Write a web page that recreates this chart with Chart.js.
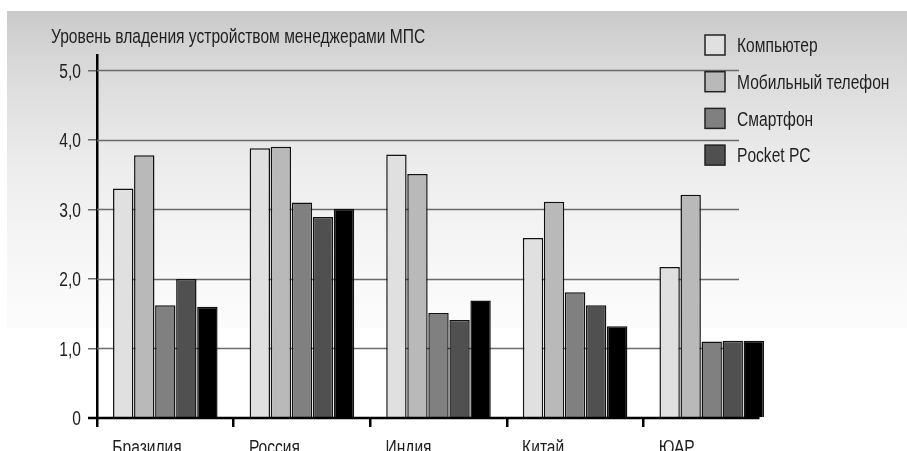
<!DOCTYPE html>
<html>
<head>
<meta charset="utf-8">
<script src="https://cdn.jsdelivr.net/npm/chart.js@4/dist/chart.umd.min.js"></script>
<style>
  html, body { margin: 0; padding: 0; background: #fff; }
  #wrap { width: 907px; height: 451px; position: relative; overflow: hidden; }
</style>
</head>
<body>
<div id="wrap"><canvas id="c" width="907" height="451"></canvas></div>
<script>
// Device ownership level among managers, by country
const categories = ['Бразилия', 'Россия', 'Индия', 'Китай', 'ЮАР'];
const computer   = [3.30, 3.88, 3.79, 2.59, 2.17];
const mobile     = [3.78, 3.90, 3.51, 3.11, 3.21];
const smartphone = [1.62, 3.10, 1.51, 1.81, 1.10];
const pocketPC   = [2.00, 2.89, 1.41, 1.62, 1.11];
const extraSeries = [1.60, 3.01, 1.69, 1.32, 1.11];
const seriesNames = ['Компьютер', 'Мобильный телефон', 'Смартфон', 'Pocket PC', ''];
const yTickValues = [0, 1, 2, 3, 4, 5];
const yTickLabels = ['0', '1,0', '2,0', '3,0', '4,0', '5,0'];
const chartTitle = 'Уровень владения устройством менеджерами МПС';

// Narrow sans: a regular face squeezed horizontally
const FONT = '20.5px "Liberation Sans", Arial, sans-serif';
const SQUEEZE = 0.76;
const CAP = 7.3; // half the cap height, for vertical centring
const TEXT = '#1e1e1e';

const fills = ['#e0e0e0', '#b9b9b9', '#808080', '#505050', '#000000'];
const values = [computer, mobile, smartphone, pocketPC, extraSeries];

function narrowText(ctx, text, x, y, align) {
  ctx.save();
  ctx.translate(x, y);
  ctx.scale(SQUEEZE, 1);
  ctx.font = FONT;
  ctx.fillStyle = TEXT;
  ctx.textAlign = align;
  ctx.textBaseline = 'alphabetic';
  ctx.fillText(text, 0, 0);
  ctx.restore();
}

// Soft grey panel fading to white behind the plot
const backdrop = {
  id: 'backdrop',
  beforeDraw(chart) {
    const ctx = chart.ctx;
    ctx.save();
    ctx.fillStyle = '#ffffff';
    ctx.fillRect(0, 0, chart.width, chart.height);
    const g = ctx.createLinearGradient(0, 11, 0, 328);
    g.addColorStop(0, '#cacaca');
    g.addColorStop(0.2, '#dbdbdb');
    g.addColorStop(0.5, '#ededed');
    g.addColorStop(0.8, '#f7f7f7');
    g.addColorStop(1, '#fcfcfc');
    ctx.fillStyle = g;
    ctx.fillRect(7, 11, chart.width - 7, 317);
    ctx.restore();
  }
};

// Horizontal value lines that stop short of the right edge, and the base line
const valueLines = {
  id: 'valueLines',
  beforeDatasetsDraw(chart) {
    const { ctx, chartArea, scales: { x, y } } = chart;
    const step = x.width / categories.length;
    const xEnd = x.getPixelForValue(categories.length - 1) + 0.2 * step;
    ctx.save();
    ctx.strokeStyle = '#6a6a6a';
    ctx.lineWidth = 1.5;
    yTickValues.forEach(v => {
      if (v === 0) return;
      const py = Math.round(y.getPixelForValue(v)) + 0.5;
      ctx.beginPath();
      ctx.moveTo(chartArea.left, py);
      ctx.lineTo(xEnd, py);
      ctx.stroke();
    });
    ctx.restore();
  },
  afterDatasetsDraw(chart) {
    const { ctx, chartArea, scales: { x, y } } = chart;
    const step = x.width / categories.length;
    const xEnd = x.getPixelForValue(categories.length - 1) + 0.35 * step;
    const py = y.getPixelForValue(0);
    ctx.save();
    ctx.strokeStyle = '#000';
    ctx.lineWidth = 2.5;
    ctx.beginPath();
    ctx.moveTo(chartArea.left - 9, py);
    ctx.lineTo(xEnd, py);
    ctx.stroke();
    ctx.restore();
  }
};

// Axis labels, title and legend in the narrow face
const annotations = {
  id: 'annotations',
  afterDraw(chart) {
    const { ctx, scales: { x, y } } = chart;

    yTickValues.forEach((v, i) => {
      narrowText(ctx, yTickLabels[i], 81, y.getPixelForValue(v) + CAP, 'right');
    });
    categories.forEach((c, i) => {
      narrowText(ctx, c, x.getPixelForValue(i) - 53, 454, 'left');
    });

    narrowText(ctx, chartTitle, 51, 43, 'left');

    let row = 0;
    chart.data.datasets.forEach(ds => {
      if (!ds.label) return;
      const top = 35 + row * 36.7;
      ctx.save();
      ctx.fillStyle = ds.backgroundColor;
      ctx.fillRect(705, top, 20, 20);
      ctx.strokeStyle = '#222';
      ctx.lineWidth = 1.5;
      ctx.strokeRect(705, top, 20, 20);
      ctx.restore();
      narrowText(ctx, ds.label, 737, top + 10 + CAP, 'left');
      row++;
    });
  }
};

new Chart(document.getElementById('c'), {
  type: 'bar',
  data: {
    labels: categories,
    datasets: values.map((vals, i) => ({
      label: seriesNames[i],
      data: vals,
      backgroundColor: fills[i],
      borderColor: '#111',
      borderWidth: 1.5,
      categoryPercentage: 0.77,
      barPercentage: 0.97
    }))
  },
  options: {
    responsive: false,
    devicePixelRatio: 1,
    animation: false,
    layout: { padding: { top: 55, right: 127, left: 0, bottom: 0 } },
    plugins: {
      legend: { display: false },
      tooltip: { enabled: false },
      title: { display: false }
    },
    scales: {
      x: {
        afterFit(s) { s.height = 33; },
        border: { display: false },
        grid: {
          drawOnChartArea: false,
          drawTicks: true,
          tickLength: 9,
          lineWidth: 2.5,
          color: ctx => ctx.type === 'tick' ? '#000' : 'rgba(0,0,0,0)'
        },
        ticks: { display: false }
      },
      y: {
        min: 0,
        max: 5.22,
        afterFit(s) { s.width = 97; },
        afterBuildTicks(s) { s.ticks = yTickValues.map(v => ({ value: v })); },
        border: { display: true, color: '#000', width: 2.5 },
        grid: {
          drawOnChartArea: false,
          drawTicks: true,
          tickLength: 9,
          lineWidth: 1.5,
          color: ctx => (ctx.tick && ctx.tick.value === 0) ? '#000' : '#6a6a6a'
        },
        ticks: { display: false }
      }
    }
  },
  plugins: [backdrop, valueLines, annotations]
});
</script>
</body>
</html>
